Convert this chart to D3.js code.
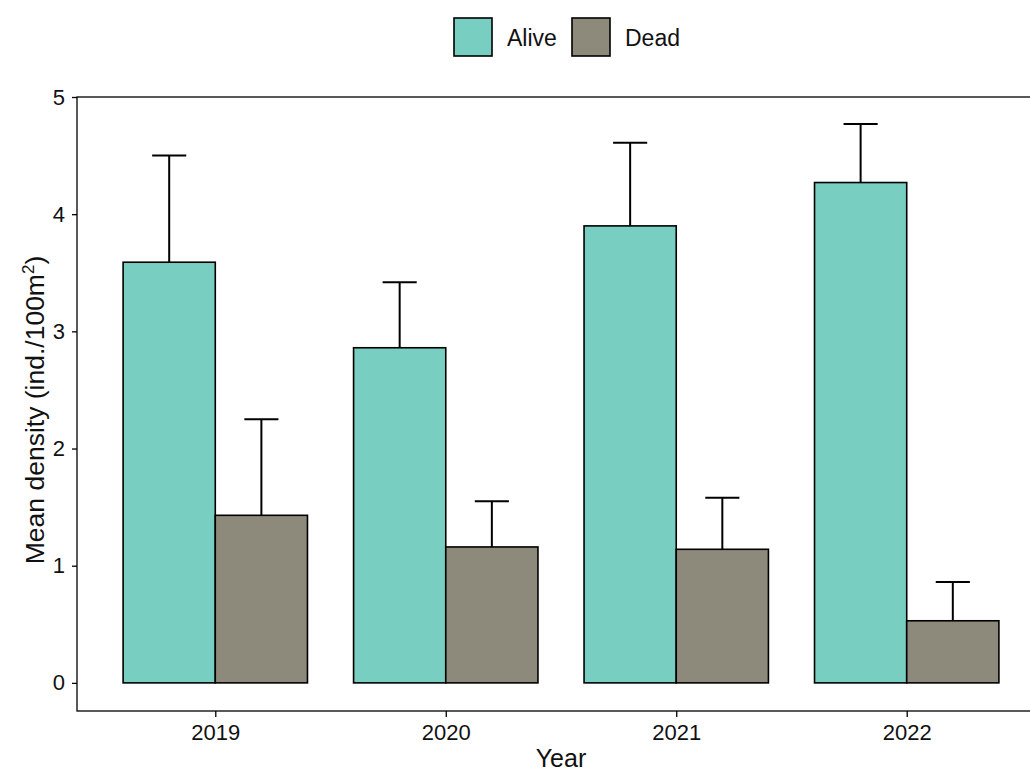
<!DOCTYPE html>
<html>
<head>
<meta charset="utf-8">
<script src="https://cdn.jsdelivr.net/npm/d3@7"></script>
<style>
  html, body { margin: 0; padding: 0; background: #fff; }
  svg { display: block; font-family: "Liberation Sans", Arial, sans-serif; }
</style>
</head>
<body>
<svg id="chart" width="1030" height="772"></svg>
<script>
const years = ["2019", "2020", "2021", "2022"];
const groups = ["Alive", "Dead"];
const aliveMean = [3.59, 2.86, 3.90, 4.27];
const aliveUpper = [4.50, 3.42, 4.61, 4.77];
const deadMean = [1.43, 1.16, 1.14, 0.53];
const deadUpper = [2.25, 1.55, 1.58, 0.86];
const yTicks = [0, 1, 2, 3, 4, 5];
const colors = { Alive: "#78CEC1", Dead: "#8E8A7B" };

const rows = [];
years.forEach((yr, i) => {
  rows.push({ year: yr, group: "Alive", mean: aliveMean[i], upper: aliveUpper[i] });
  rows.push({ year: yr, group: "Dead", mean: deadMean[i], upper: deadUpper[i] });
});

const svg = d3.select("#chart");
const panel = { left: 77, right: 1045, top: 97, bottom: 711 };

const x = d3.scalePoint().domain(years).range([panel.left, panel.right]).padding(0.6);
const step = x.step();
const xSub = d3.scaleBand().domain(groups).range([-step * 0.4, step * 0.4]).paddingInner(0);
const y = d3.scaleLinear().domain([-0.24, 5]).range([panel.bottom, panel.top]);

svg.append("rect").attr("width", 1030).attr("height", 772).attr("fill", "#fff");

// error bars (upper only, drawn first so bar covers lower part)
const capW = xSub.bandwidth() * 0.37;
const eb = svg.append("g").attr("stroke", "#000").attr("stroke-width", 2);
rows.forEach(d => {
  const cx = x(d.year) + xSub(d.group) + xSub.bandwidth() / 2;
  eb.append("line").attr("x1", cx).attr("x2", cx).attr("y1", y(d.mean)).attr("y2", y(d.upper));
  eb.append("line").attr("x1", cx - capW / 2).attr("x2", cx + capW / 2).attr("y1", y(d.upper)).attr("y2", y(d.upper));
});

// bars
svg.append("g").selectAll("rect").data(rows).join("rect")
  .attr("x", d => x(d.year) + xSub(d.group))
  .attr("width", xSub.bandwidth())
  .attr("y", d => y(d.mean))
  .attr("height", d => y(0) - y(d.mean))
  .attr("fill", d => colors[d.group])
  .attr("stroke", "#000")
  .attr("stroke-width", 1.6);

// panel border
svg.append("rect")
  .attr("x", panel.left).attr("y", panel.top)
  .attr("width", panel.right - panel.left).attr("height", panel.bottom - panel.top)
  .attr("fill", "none").attr("stroke", "#000").attr("stroke-width", 1.3);

// axes
const yAxis = d3.axisLeft(y).tickValues(yTicks).tickSize(5).tickPadding(7).tickFormat(d3.format("d"));
const gy = svg.append("g").attr("transform", `translate(${panel.left},0)`).call(yAxis);
gy.select(".domain").remove();
gy.selectAll("text").attr("font-size", 22).attr("fill", "#111").attr("font-family", "Liberation Sans, Arial, sans-serif");
gy.selectAll("line").attr("stroke", "#000").attr("stroke-width", 1.3);

const xAxis = d3.axisBottom(x).tickSize(6).tickPadding(7);
const gx = svg.append("g").attr("transform", `translate(0,${panel.bottom})`).call(xAxis);
gx.select(".domain").remove();
gx.selectAll("text").attr("font-size", 22).attr("fill", "#111").attr("font-family", "Liberation Sans, Arial, sans-serif");
gx.selectAll("line").attr("stroke", "#000").attr("stroke-width", 1.3);

// axis titles
svg.append("text")
  .attr("x", (panel.left + panel.right) / 2).attr("y", 767)
  .attr("text-anchor", "middle").attr("font-size", 25).attr("fill", "#111")
  .text("Year");

const yt = svg.append("text")
  .attr("transform", `translate(44,410) rotate(-90)`)
  .attr("text-anchor", "middle").attr("font-size", 26.5).attr("fill", "#111");
yt.append("tspan").text("Mean density (ind./100m");
yt.append("tspan").attr("font-size", 17).attr("dy", -10).text("2");
yt.append("tspan").attr("dy", 10).text(")");

// legend
const legendX = [454, 572];
groups.forEach((g, i) => {
  svg.append("rect").attr("x", legendX[i]).attr("y", 18).attr("width", 38).attr("height", 38)
    .attr("fill", colors[g]).attr("stroke", "#000").attr("stroke-width", 1.6);
  svg.append("text").attr("x", legendX[i] + 53).attr("y", 46)
    .attr("font-size", 23).attr("fill", "#111").text(g);
});
</script>
</body>
</html>
